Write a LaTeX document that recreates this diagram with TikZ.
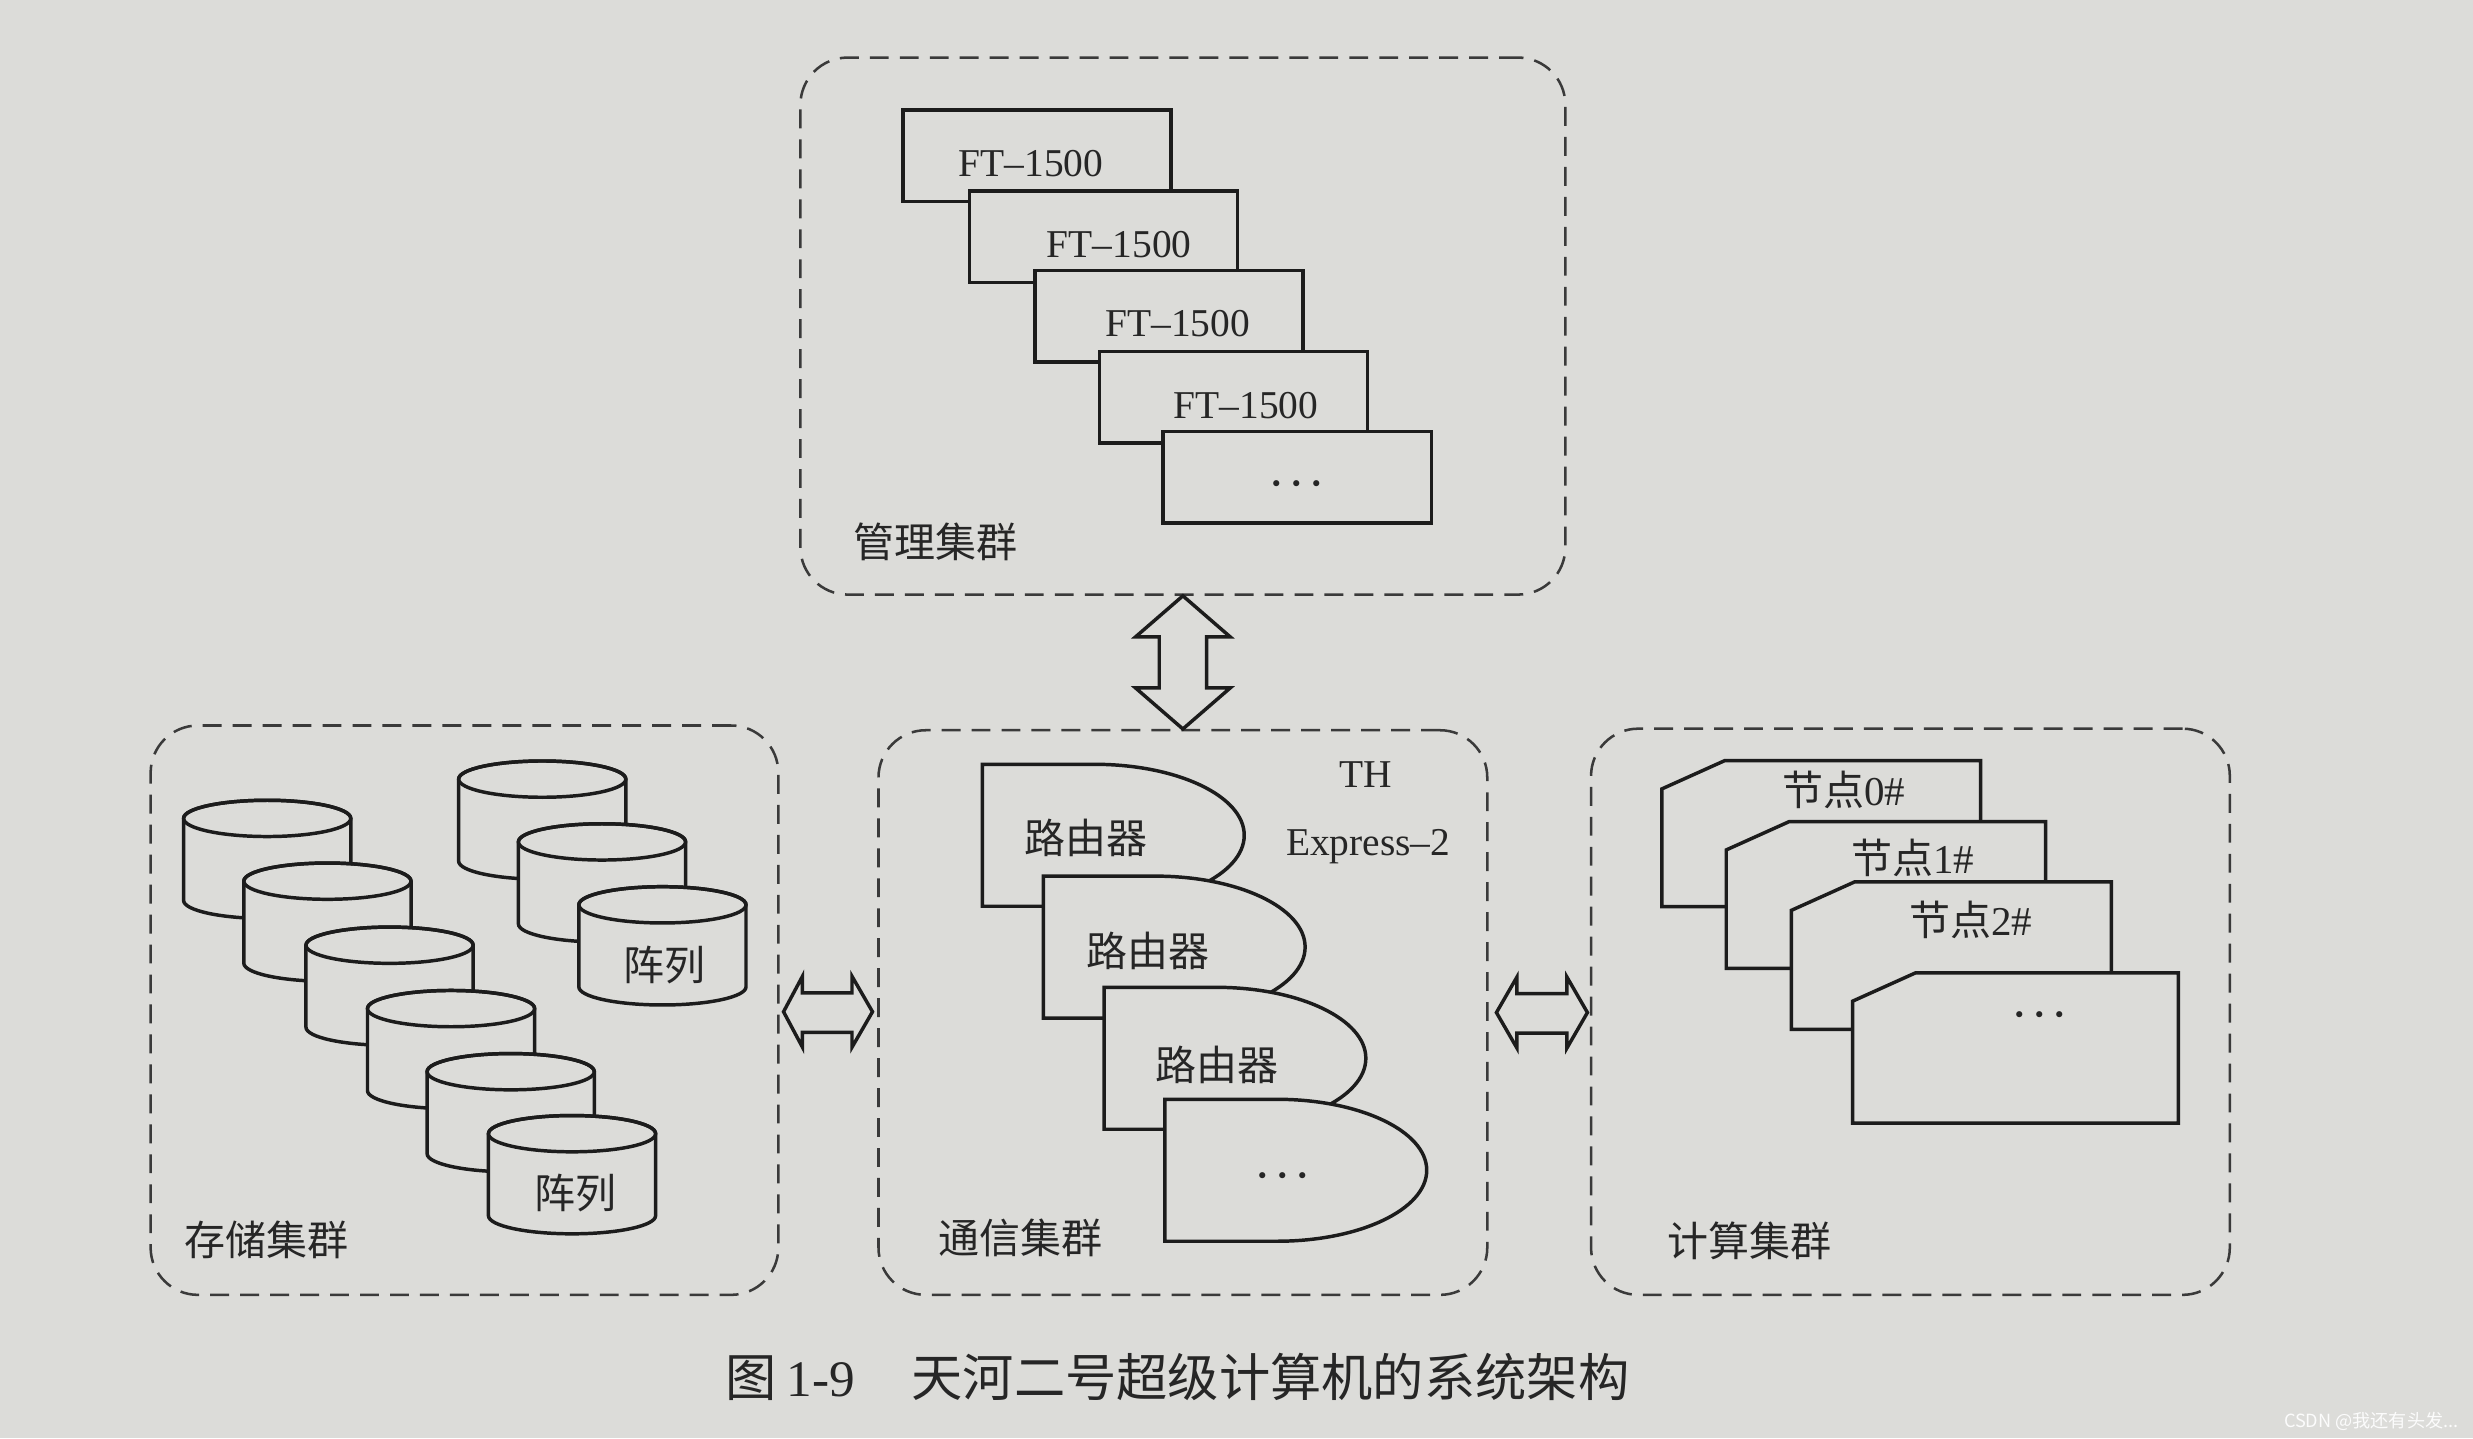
\documentclass[tikz,border=0pt]{standalone}
\usepackage{fontspec}
\setmainfont{Liberation Serif}
\newfontfamily\cjk{Noto Sans CJK SC}
\usetikzlibrary{calc}
\definecolor{paper}{RGB}{220,220,217}
\definecolor{ink}{RGB}{28,28,28}
\definecolor{dashink}{RGB}{58,58,58}
\definecolor{txtink}{RGB}{38,38,38}
\tikzset{
  cluster/.style={rectangle, draw=dashink, line width=1.6pt, dash pattern=on 12pt off 7pt,
    rounded corners=30pt, inner sep=0pt},
  solidshape/.style={draw=ink, line width=2.2pt, fill=paper, line join=miter},
  ftbox/.style={rectangle, draw=ink, line width=2.2pt, fill=paper,
    minimum width=170pt, minimum height=58pt, inner sep=0pt},
  latin/.style={font=\fontsize{25}{25}\selectfont, text=txtink, inner sep=0pt},
  cjklbl/.style={font=\cjk\fontsize{26}{26}\selectfont, text=txtink, inner sep=0pt},
  dotlbl/.style={font=\fontsize{23}{23}\selectfont\boldmath, text=txtink, inner sep=0pt},
}
% cylinder: name, left, top
\newcommand\mycyl[3]{%
  \coordinate (#1) at (#2,#3);
  \filldraw[solidshape] ($(#1)+(0,11.5)$) -- ++(0,52)
     arc[start angle=180, end angle=0, x radius=53, y radius=11.5]
     -- ++(0,-52)
     arc[start angle=0, end angle=-180, x radius=53, y radius=11.5] -- cycle;
  \draw[solidshape, fill=none] ($(#1)+(53,11.5)$) ellipse[x radius=53, y radius=11.5];
}
% router: name, left, top
\newcommand\myrouter[3]{%
  \coordinate (#1) at (#2,#3);
  \filldraw[solidshape] (#1) -- ++(71,0)
     arc[start angle=-90, end angle=90, x radius=95, y radius=45]
     -- ++(-71,0) -- cycle;
}
% compute node: name, left, top, right, bottom
\newcommand\mynode[5]{%
  \coordinate (#1) at (#2,#3);
  \filldraw[solidshape] (#2,#3+18) -- (#2+40,#3) -- (#4,#3) -- (#4,#5) -- (#2,#5) -- cycle;
}
\begin{document}
\begin{tikzpicture}[x=1pt,y=-1pt]
\fill[paper] (0,0) rectangle (1568,912);
\useasboundingbox (0,0) rectangle (1568,912);

% ---------- clusters ----------
\node[cluster, minimum width=485pt, minimum height=340.5pt] (mgmt) at (750,206.75) {};
\node[cluster, minimum width=398pt, minimum height=361pt] (stor) at (294.5,640.5) {};
\node[cluster, minimum width=386pt, minimum height=358pt] (comm) at (750,642) {};
\node[cluster, minimum width=405pt, minimum height=359pt] (comp) at (1211.3,641.5) {};

\node[cjklbl] (mgmtl) at (593,343.3) {管理集群};
\node[cjklbl] (storl) at (169,786.3) {存储集群};
\node[cjklbl] (comml) at (647,785) {通信集群};
\node[cjklbl] (compl) at (1109.5,786.6) {计算集群};

% ---------- management: FT-1500 ----------
\node[ftbox] (ft1) at (657.4,98.7) {};
\node[latin] (ft1t) at (653.7,104) {FT–1500};
\node[ftbox] (ft2) at (699.7,150.1) {};
\node[latin] (ft2t) at (709.6,155.3) {FT–1500};
\node[ftbox] (ft3) at (741.1,200.4) {};
\node[latin] (ft3t) at (746.7,205) {FT–1500};
\node[ftbox] (ft4) at (782,251.8) {};
\node[latin] (ft4t) at (790,257.4) {FT–1500};
\node[ftbox] (ft5) at (822.5,302.5) {};
\node[dotlbl] (ft5t) at (822.5,307) {$\cdots$};

% ---------- storage: cylinders ----------
\mycyl{c1}{116.4}{507.4}
\mycyl{c2}{154.6}{547.2}
\mycyl{c3}{194}{587.8}
\mycyl{c4}{233}{628}
\mycyl{c5}{270.8}{668}
\mycyl{c6}{309.7}{707.3}
\node[cjklbl] (c6t) at (365,756.4) {阵列};
\mycyl{c7}{290.8}{482.5}
\mycyl{c8}{328.7}{522.3}
\mycyl{c9}{367}{562.2}
\node[cjklbl] (c9t) at (421.5,612) {阵列};

% ---------- communication: routers ----------
\myrouter{r1}{622.9}{484.6}
\node[cjklbl] (r1t) at (688.6,531) {路由器};
\myrouter{r2}{661.5}{555.5}
\node[cjklbl] (r2t) at (728,603) {路由器};
\myrouter{r3}{700}{626}
\node[cjklbl] (r3t) at (771.5,675.5) {路由器};
\myrouter{r4}{738.6}{697}
\node[dotlbl] (r4t) at (813.6,746) {$\cdots$};
\node[latin] (th) at (866,491) {TH};
\node[latin] (thx) at (867.5,537) {Express–2};

% ---------- compute: nodes ----------
\mynode{n1}{1053.7}{482.2}{1255.8}{574.9}
\node[cjklbl] (n1t) at (1168.9,501.1) {节点{\rmfamily 0\#}};
\mynode{n2}{1094.5}{520.9}{1297}{614}
\node[cjklbl] (n2t) at (1212.8,544.1) {节点{\rmfamily 1\#}};
\mynode{n3}{1135.8}{559.2}{1338.7}{652.7}
\node[cjklbl] (n3t) at (1249.6,583.2) {节点{\rmfamily 2\#}};
\mynode{n4}{1174.6}{616.8}{1381.2}{712.1}
\node[dotlbl] (n4t) at (1293.4,644) {$\cdots$};

% ---------- fat double arrows ----------
% vertical: management <-> communication
\coordinate (vt) at (mgmt.south);
\coordinate (vb) at (comm.north);
\filldraw[solidshape] (vt) -- ($(vt)+(30,26)$) -- ($(vt)+(15,26)$) -- ($(vb)+(15,-26)$)
  -- ($(vb)+(30,-26)$) -- (vb) -- ($(vb)+(-30,-26)$) -- ($(vb)+(-15,-26)$)
  -- ($(vt)+(-15,26)$) -- ($(vt)+(-30,26)$) -- cycle;
% storage <-> communication
\coordinate (al) at ($(stor.east)+(2.5,1)$);
\coordinate (ar) at ($(comm.west)+(-3,-0.5)$);
\filldraw[solidshape] (al) -- ($(al)+(12,-22.5)$) -- ($(al)+(12,-12)$) -- ($(ar)+(-13,-12)$)
  -- ($(ar)+(-13,-22.5)$) -- (ar) -- ($(ar)+(-13,22.5)$) -- ($(ar)+(-13,13)$)
  -- ($(al)+(12,13)$) -- ($(al)+(12,22.5)$) -- cycle;
% communication <-> compute
\coordinate (bl) at ($(comm.east)+(5,0)$);
\coordinate (br) at ($(comp.west)+(-1.5,0.5)$);
\filldraw[solidshape] (bl) -- ($(bl)+(13,-22.5)$) -- ($(bl)+(13,-12)$) -- ($(br)+(-13,-12)$)
  -- ($(br)+(-13,-22.5)$) -- (br) -- ($(br)+(-13,22.5)$) -- ($(br)+(-13,13)$)
  -- ($(bl)+(13,13)$) -- ($(bl)+(13,22.5)$) -- cycle;

% ---------- caption ----------
\node[anchor=west, inner sep=0pt, text=txtink, font=\fontsize{32.5}{32.5}\selectfont] (cap)
  at (460,873) {{\cjk 图}\hspace{6pt}1-9\hspace{36pt}{\cjk 天河二号超级计算机的系统架构}};
\node[anchor=east, inner sep=0pt, text=white!92!paper, font=\cjk\fontsize{11.5}{11.5}\selectfont] (wm)
  at (1559,901) {CSDN @我还有头发...};
\end{tikzpicture}
\end{document}
